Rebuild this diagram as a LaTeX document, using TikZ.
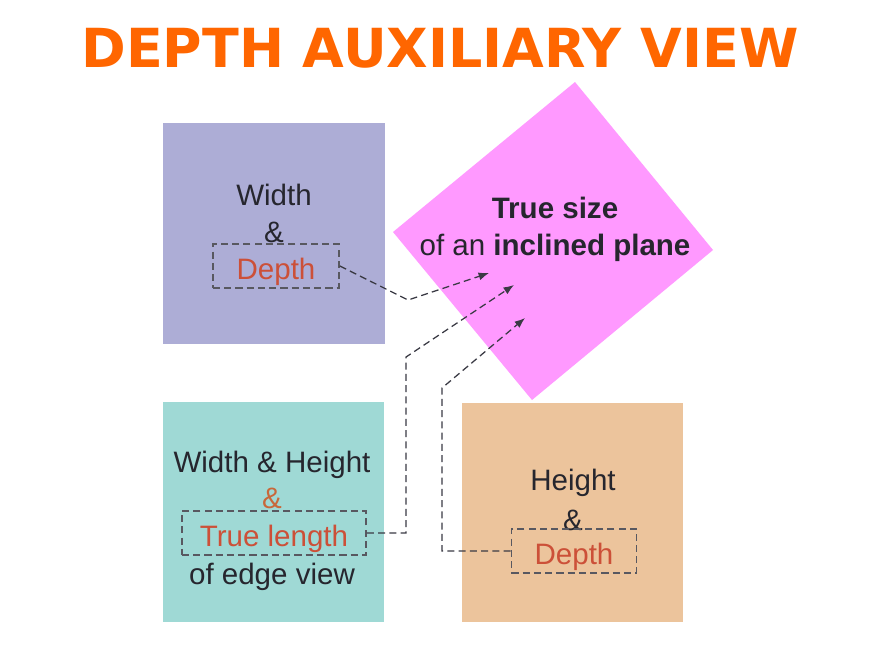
\documentclass[tikz,border=0pt]{standalone}
\usepackage{fontspec}
\setmainfont{Liberation Sans}
\newfontfamily\titlefont{DejaVu Sans}
\usetikzlibrary{positioning,arrows.meta}

\definecolor{titleorange}{HTML}{FF6600}
\definecolor{viewpurple}{HTML}{ADADD6}
\definecolor{viewcyan}{HTML}{9FD9D5}
\definecolor{viewtan}{HTML}{ECC49C}
\definecolor{planepink}{HTML}{FF99FF}
\definecolor{inkdark}{HTML}{26262E}
\definecolor{inkred}{HTML}{CC5038}
\definecolor{inkamp}{HTML}{C8683A}
\definecolor{linegray}{HTML}{3A3A44}

\begin{document}
\begin{tikzpicture}[x=0.025cm, y=-0.025cm,
    lbl/.style={font=\fontsize{21}{25}\selectfont, text=inkdark, inner sep=0pt, anchor=base},
    tag/.style={draw=linegray!85, dash pattern=on 5pt off 3pt, line width=1.2pt,
      font=\fontsize{21}{25}\selectfont, text=inkred, inner sep=0pt,
      text height=19pt, text depth=0pt, minimum height=1.1cm},
    link/.style={draw=linegray, dash pattern=on 5pt off 3pt, line width=0.9pt,
      -{Latex[length=2.6mm,width=2mm]}}]
    \useasboundingbox[fill=white] (0,0) rectangle (880,660);

    \node[font=\titlefont\bfseries\fontsize{38.3}{40}\selectfont, text=titleorange, anchor=base] (title) at (440,67) {DEPTH AUXILIARY VIEW};

    % views
    \fill[viewpurple] (163,123) rectangle (385,344);
    \fill[viewcyan] (163,402) rectangle (384,622);
    \fill[viewtan] (462,403) rectangle (683,622);
    \fill[planepink] (575,82) -- (713,250) -- (532,400) -- (393,232) -- cycle;

    % top view
    \node[lbl] (topw) at (274,205) {Width};
    \node[lbl] (topand) at (274,242) {\&};
    \node[tag, minimum width=3.15cm] (topdepth) at (276,266) {Depth};

    % front view
    \node[lbl] (frontwh) at (272,472) {Width \& Height};
    \node[lbl, text=inkamp] (frontand) at (272,508) {\&};
    \node[tag, minimum width=4.6cm] (frontlen) at (274,533) {True length};
    \node[lbl] (frontedge) at (272,584) {of edge view};

    % side view
    \node[lbl] (sideh) at (573,490) {Height};
    \node[lbl] (sideand) at (573,530) {\&};
    \node[tag, minimum width=3.125cm] (sidedepth) at (574,551) {Depth};

    % auxiliary view
    \node[lbl] (auxtrue) at (555,218) {\textbf{True size}};
    \node[lbl] (auxplane) at (555,255) {of an \textbf{inclined plane}};

    \coordinate (bendA) at (408,300);
    \coordinate (hitA) at (489,273);
    \coordinate (bendB) at (406,357);
    \coordinate (hitB) at (514,285);
    \coordinate (bendC) at (442,388);
    \coordinate (hitC) at (525,318);

    \draw[link] (topdepth.east) -- (bendA) -- (hitA);
    \draw[link] (frontlen.east) -- (bendB |- frontlen.east) -- (bendB) -- (hitB);
    \draw[link] (sidedepth.west) -- (bendC |- sidedepth.west) -- (bendC) -- (hitC);
\end{tikzpicture}
\end{document}
